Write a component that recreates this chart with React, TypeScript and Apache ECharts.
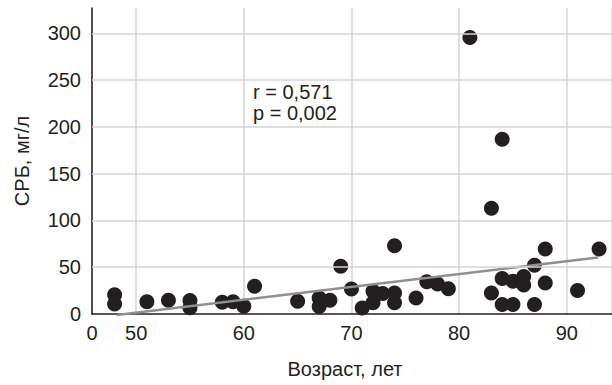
import React, { useEffect, useRef } from "react";
import * as echarts from "echarts";

const points: [number, number][] = [
  [48, 20.7], [48, 10.8], [51, 13], [53, 14.7], [55, 14.4], [55, 6.6],
  [58, 12.6], [59, 13], [60, 8.3], [61, 29.6],
  [65, 13.6], [67, 17], [67, 8], [68, 14.7], [69, 50.9], [70, 26.8],
  [71, 6.3], [72, 24.3], [72, 11.9], [72.9, 22], [74, 22.5], [74, 11.9],
  [74, 72.9], [76, 17], [77, 34.5], [78, 32.1], [79, 27],
  [81, 295.5], [83, 113], [83, 22.5], [84, 186.7], [84, 38], [84, 10.1],
  [85, 34.9], [85, 10.1], [86, 40], [86, 31], [87, 52], [87, 10.1],
  [88, 33], [88, 69.4], [91, 25], [93, 69.4],
];

const regressionLine: [number, number][] = [
  [48.2, -1],
  [92.9, 60.4],
];

const yGridValues = [50, 100, 150, 200, 250, 300];
const statsText = ["r = 0,571", "p = 0,002"];

const X_MIN = 45.9;
const X_MAX = 94.2;
const Y_MAX = 327;

const FONT = "'Liberation Sans', Arial, sans-serif";
const INK = "#231f20";

export default function App() {
  const ref = useRef<HTMLDivElement>(null);

  useEffect(() => {
    document.body.style.margin = "0";
    if (!ref.current) return;
    const chart = echarts.init(ref.current, undefined, { renderer: "svg" });
    chart.setOption({
      animation: false,
      backgroundColor: "#ffffff",
      grid: { left: 92, right: 0, top: 8, bottom: 71, containLabel: false },
      xAxis: {
        type: "value",
        min: X_MIN,
        max: X_MAX,
        splitNumber: 5,
        name: "Возраст, лет",
        nameLocation: "middle",
        nameGap: 45,
        nameTextStyle: { fontFamily: FONT, fontSize: 20, color: INK, padding: [0, 14, 0, 0] },
        axisLine: { show: true, lineStyle: { color: INK, width: 1.5 } },
        axisTick: { show: false },
        axisLabel: {
          fontFamily: FONT,
          fontSize: 20,
          color: INK,
          margin: 9,
          showMinLabel: true,
          showMaxLabel: false,
          formatter: (v: number) => (v < 46 ? "0" : v > 94 ? "" : String(Math.round(v))),
        },
        splitLine: { show: true, lineStyle: { color: "#d5d5d5", width: 1.5 } },
      },
      yAxis: {
        type: "value",
        min: 0,
        max: Y_MAX,
        interval: 50,
        name: "СРБ, мг/л",
        nameLocation: "middle",
        nameGap: 60,
        nameTextStyle: { fontFamily: FONT, fontSize: 20, color: INK },
        axisLine: { show: true, lineStyle: { color: INK, width: 1.5 } },
        axisTick: { show: false },
        axisLabel: {
          fontFamily: FONT,
          fontSize: 20,
          color: INK,
          margin: 11,
          formatter: (v: number) => (v > 300 ? "" : String(v)),
        },
        splitLine: { show: false },
      },
      graphic: [
        {
          type: "text",
          left: 253,
          top: 81,
          style: {
            text: statsText.join("\n"),
            font: `20px ${FONT}`,
            fill: INK,
            lineHeight: 21,
          },
        },
      ],
      series: [
        {
          type: "scatter",
          data: [],
          z: 1,
          silent: true,
          markLine: {
            silent: true,
            symbol: ["none", "none"],
            label: { show: false },
            lineStyle: { color: "#d5d5d5", width: 1.5, type: "solid" },
            data: yGridValues.map((v) => ({ yAxis: v })),
          },
        },
        {
          type: "scatter",
          data: points,
          symbol: "circle",
          symbolSize: 15,
          itemStyle: { color: INK, opacity: 1 },
          z: 3,
        },
        {
          type: "line",
          data: regressionLine,
          symbol: "none",
          clip: false,
          lineStyle: { color: "#8f8f8f", width: 2.5 },
          z: 4,
        },
      ],
    });
    return () => chart.dispose();
  }, []);

  return <div ref={ref} style={{ width: 612, height: 385 }} />;
}
